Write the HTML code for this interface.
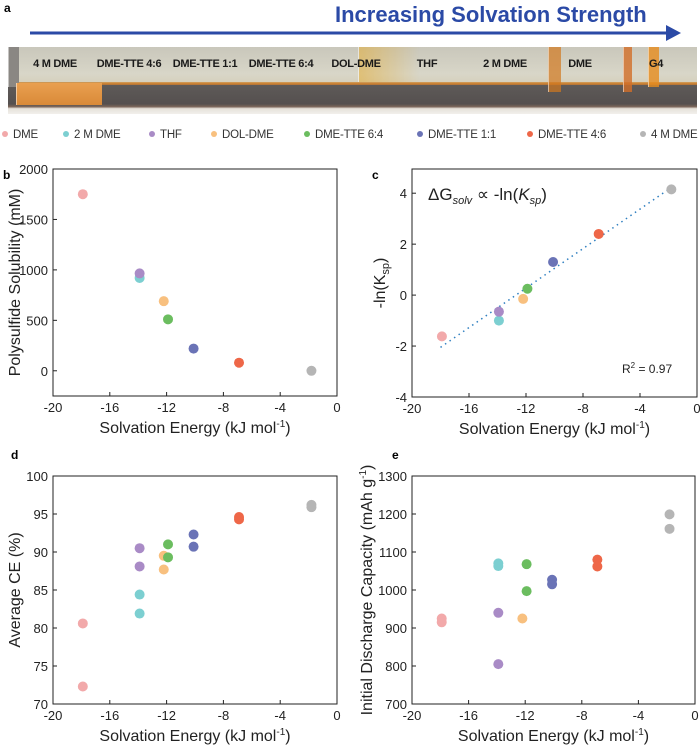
<!DOCTYPE html>
<html><head><meta charset="utf-8">
<style>
body{margin:0;background:#fff;width:700px;height:751px;overflow:hidden;font-family:"Liberation Sans",sans-serif}
#wrap{position:relative;width:700px;height:751px}
#photo{position:absolute;left:8px;top:47px;width:689px;height:67px;overflow:hidden;
background:linear-gradient(#c9c7bb 0%,#d8d6c8 40%,#d6d1be 52%,#cc8a3a 53%,#c97c30 56%,#5e5a58 57%,#55504f 85%,#7a6458 89%,#e6e2da 92%,#f2f0ec 100%)}
.vial{position:absolute;top:0;height:67px;border-left:1px solid rgba(255,255,255,.5)}
.lbl{position:absolute;top:11px;font-weight:bold;font-size:11px;color:#1a1a1a;transform:translateX(-50%);white-space:nowrap;letter-spacing:-0.3px}
svg text{font-family:"Liberation Sans",sans-serif}
</style></head><body>
<div id="wrap">
<div id="photo">
 <div class="vial" style="left:0;width:10px;background:#8a8783;height:40px"></div>
 <div class="vial" style="left:8px;width:85px;top:36px;height:22px;background:linear-gradient(#e9a050,#d98a38)"></div>
 <div class="vial" style="left:350px;width:60px;height:35px;background:linear-gradient(90deg,rgba(230,170,40,.5),rgba(230,170,40,0))"></div>
 <div class="vial" style="left:540px;width:12px;height:45px;background:rgba(210,120,30,.7)"></div>
 <div class="vial" style="left:615px;width:8px;height:45px;background:rgba(210,110,40,.8)"></div>
 <div class="vial" style="left:640px;width:10px;height:40px;background:rgba(230,140,30,.8)"></div>
 <span class="lbl" style="left:47px">4 M DME</span>
 <span class="lbl" style="left:121px">DME-TTE 4:6</span>
 <span class="lbl" style="left:197px">DME-TTE 1:1</span>
 <span class="lbl" style="left:273px">DME-TTE 6:4</span>
 <span class="lbl" style="left:348px">DOL-DME</span>
 <span class="lbl" style="left:419px">THF</span>
 <span class="lbl" style="left:497px">2 M DME</span>
 <span class="lbl" style="left:572px">DME</span>
 <span class="lbl" style="left:648px">G4</span>
</div>
<svg id="svg" width="700" height="751" style="position:absolute;left:0;top:0">
 <text x="4" y="12" font-size="12" font-weight="bold">a</text>
 <text x="335" y="22" font-size="22" font-weight="bold" fill="#2b4aa6">Increasing Solvation Strength</text>
 <line x1="30" y1="33" x2="668" y2="33" stroke="#2b4aa6" stroke-width="3"/>
 <polygon points="666,25 681,33 666,41" fill="#2b4aa6"/>
 <g id="legend"></g>
 <g id="charts"></g>
</svg>
</div>
<script>
const series = ["DME","2 M DME","THF","DOL-DME","DME-TTE 6:4","DME-TTE 1:1","DME-TTE 4:6","4 M DME"];
const colors = ["#f2a9aa","#7ccfd1","#a98bc6","#f8c07f","#6bbd5f","#6a73b6","#ee6748","#b5b5b5"];
const solvX = [-17.9,-13.9,-13.9,-12.2,-11.9,-10.1,-6.9,-1.8];
const solubility = [1750,920,965,690,510,220,80,0];
const lnKsp = [-1.62,-1.0,-0.65,-0.15,0.25,1.3,2.4,4.15];
const fitLine = [[-18,-2.05],[-2,4.15]];
const avgCE = [[80.6,72.3],[84.4,81.9],[90.5,88.1],[89.5,87.7],[91.0,89.3],[92.3,90.7],[94.6,94.3],[96.2,95.9]];
const capacity = [[925,915],[1070,1063],[940,805],[925],[1068,997],[1027,1015],[1080,1062],[1199,1161]];
const xTicks = [-20,-16,-12,-8,-4,0];
const legendX = [5,66,152,214,307,420,530,643];

const NS="http://www.w3.org/2000/svg";
function mk(tag,attrs,parent,txt){const e=document.createElementNS(NS,tag);for(const k in attrs)e.setAttribute(k,attrs[k]);if(txt!==undefined)e.textContent=txt;parent.appendChild(e);return e;}
const leg=document.getElementById('legend');
series.forEach((s,i)=>{
  const c=mk('circle',{cx:legendX[i],cy:134,r:3,fill:colors[i]},leg);
  
  
  const t=mk('text',{x:legendX[i]+8,y:138,'font-size':11.5,fill:'#333','letter-spacing':'-0.2'},leg,s);
  
  
});
const root=document.getElementById('charts');
function chart(o){
  const g=mk('g',{},root);
  
  
  const sx=v=>o.l+(v-(-20))/20*(o.r-o.l);
  const sy=v=>o.b-(v-o.ymin)/(o.ymax-o.ymin)*(o.b-o.t);
  const box=mk('rect',{x:o.l,y:o.t,width:o.r-o.l,height:o.b-o.t,fill:'none',stroke:'#222','stroke-width':1},g);
  
  
  xTicks.forEach(v=>{
    const tk=mk('line',{x1:sx(v),x2:sx(v),y1:o.b,y2:o.b-4,stroke:'#222'},g);
    
    
    const t=mk('text',{x:sx(v),y:o.b+16,'font-size':13,'text-anchor':'middle',fill:'#222'},g,v);
    
    
  });
  o.yTicks.forEach(v=>{
    const tk=mk('line',{x1:o.l,x2:o.l+4,y1:sy(v),y2:sy(v),stroke:'#222'},g);
    
    
    const t=mk('text',{x:o.l-5,y:sy(v)+5,'font-size':13,'text-anchor':'end',fill:'#222'},g,v);
    
    
  });
  const xt=mk('text',{x:(o.l+o.r)/2,y:o.b+37,'font-size':16,'text-anchor':'middle',fill:'#222'},g);
  
  
  xt.innerHTML='Solvation Energy (kJ mol<tspan dy="-6" font-size="10">-1</tspan><tspan dy="6">)</tspan>';
  const yt=mk('text',{x:0,y:0,'font-size':16,'text-anchor':'middle',fill:'#222',transform:`translate(${o.ytx},${(o.t+o.b)/2}) rotate(-90)`},g);
  
  
  yt.innerHTML=o.ytitle;
  const pl=mk('text',{x:o.l-(o.plOff||48),y:o.t+(o.plY||10),'font-size':12,'font-weight':'bold'},g,o.letter);
  
  
  if(o.line){
    const ln=mk('line',{x1:sx(o.line[0][0]),y1:sy(o.line[0][1]),x2:sx(o.line[1][0]),y2:sy(o.line[1][1]),stroke:'#2f7fc0','stroke-width':1.5,'stroke-dasharray':'1.5 4'},g);
    
    
  }
  o.data.forEach((d,i)=>{
    const vals=Array.isArray(d)?d:[d];
    vals.forEach(v=>{
      const c=mk('circle',{cx:sx(solvX[i]),cy:sy(v),r:5,fill:colors[i]},g);
      
      
    });
  });
  return {g,sx,sy};
}
chart({name:'chart-solubility',letter:'b',l:53,r:337,t:169,b:396,ymin:-250,ymax:2000,yTicks:[0,500,1000,1500,2000],data:solubility,ytx:20,plOff:50,plY:0,
  ytitle:'Polysulfide Solubility (mM)'});
const c=chart({name:'chart-lnksp',letter:'c',l:412,r:697,t:169,b:397,ymin:-4,ymax:4.95,yTicks:[-4,-2,0,2,4],data:lnKsp,ytx:385,plOff:40,plY:0,line:fitLine,
  ytitle:'-ln(K<tspan dy="4" font-size="11">sp</tspan><tspan dy="-4">)</tspan>'});
const eq=mk('text',{x:428,y:200,'font-size':17,fill:'#222'},c.g);


eq.innerHTML='ΔG<tspan dy="4" font-size="11" font-style="italic">solv</tspan><tspan dy="-4"> ∝ -ln(</tspan><tspan font-style="italic">K</tspan><tspan dy="4" font-size="11" font-style="italic">sp</tspan><tspan dy="-4">)</tspan>';
const r2=mk('text',{x:622,y:373,'font-size':12,fill:'#222'},c.g);


r2.innerHTML='R<tspan dy="-5" font-size="8">2</tspan><tspan dy="5"> = 0.97</tspan>';
chart({name:'chart-avg-ce',letter:'d',l:53,r:337,t:476,b:704,ymin:70,ymax:100,yTicks:[70,75,80,85,90,95,100],data:avgCE,ytx:20,plOff:42,plY:-17,
  ytitle:'Average CE (%)'});
chart({name:'chart-capacity',letter:'e',l:412,r:695,t:476,b:704,ymin:700,ymax:1300,yTicks:[700,800,900,1000,1100,1200,1300],data:capacity,ytx:372,plOff:20,plY:-17,
  ytitle:'Initial Discharge Capacity (mAh g<tspan dy="-6" font-size="10">-1</tspan><tspan dy="6">)</tspan>'});
</script>
</body></html>
